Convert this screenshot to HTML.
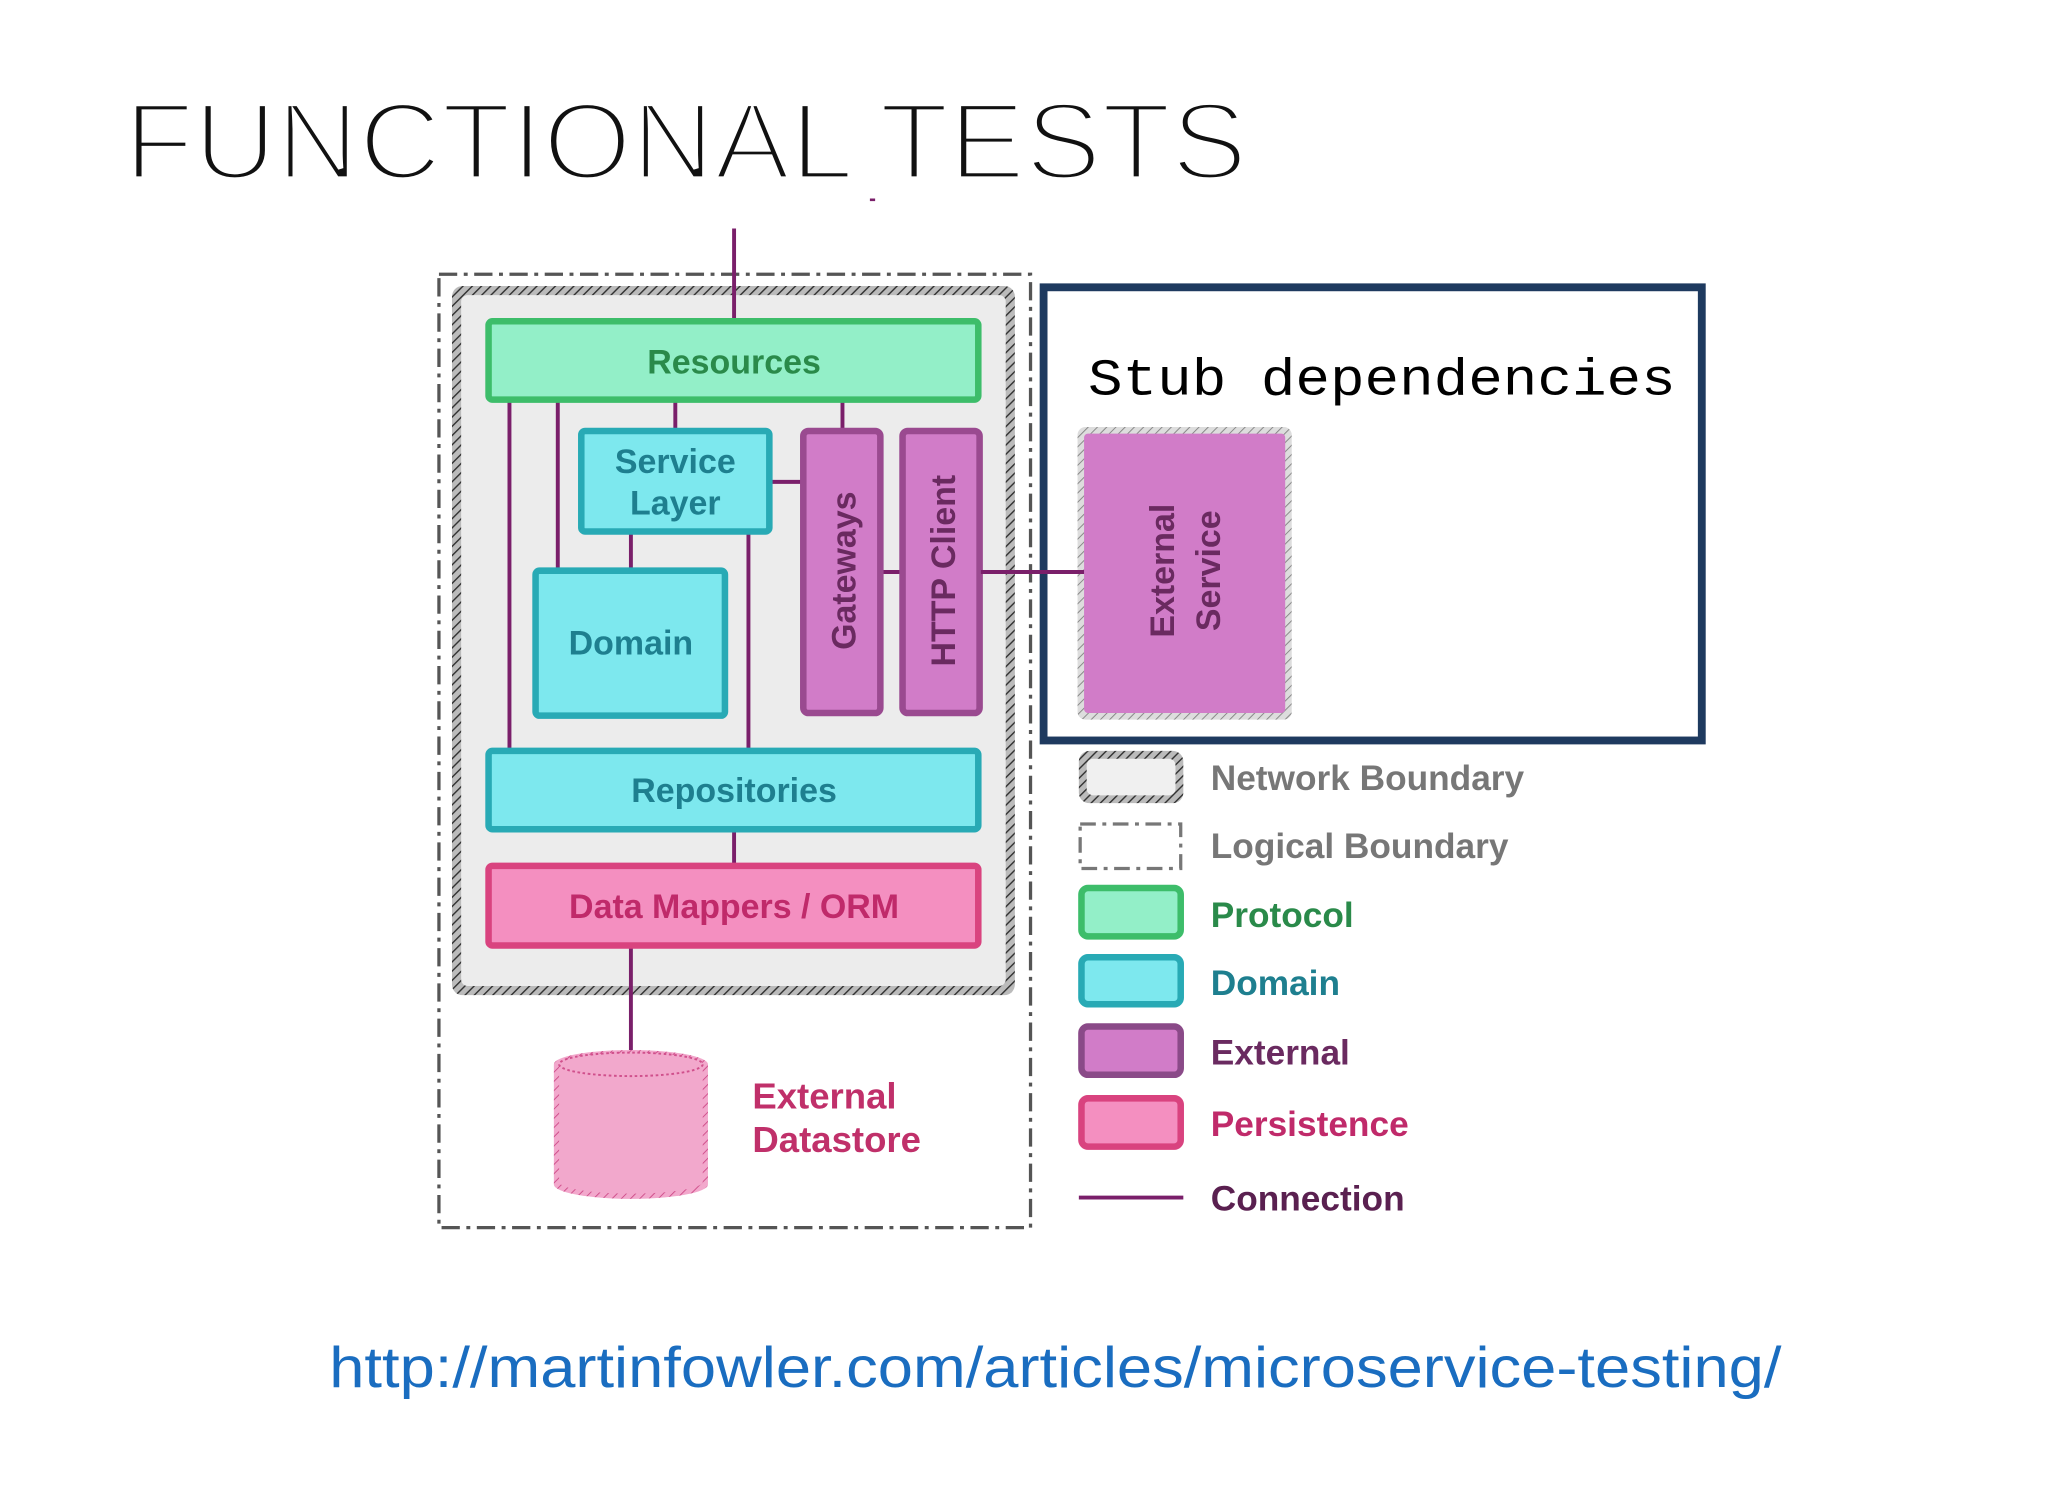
<!DOCTYPE html>
<html><head><meta charset="utf-8"><style>
html,body{margin:0;padding:0;background:#fff;}
svg{display:block;}
.s{font-family:"Liberation Sans",sans-serif;}
.m{font-family:"Liberation Mono",monospace;}
</style></head><body>
<svg width="2048" height="1494" viewBox="0 0 1568 1144" xmlns="http://www.w3.org/2000/svg">
<defs>
<pattern id="hatch" width="5" height="5" patternUnits="userSpaceOnUse" patternTransform="rotate(45)">
<rect width="5" height="5" fill="#bbb"/><line x1="0" y1="0" x2="0" y2="5" stroke="#333" stroke-width="2.2"/>
</pattern>
<pattern id="hatch2" width="5" height="5" patternUnits="userSpaceOnUse" patternTransform="rotate(45)">
<rect width="5" height="5" fill="#ddd"/><line x1="0" y1="0" x2="0" y2="5" stroke="#888" stroke-width="1.5"/>
</pattern>
<pattern id="hatch3" width="5" height="5" patternUnits="userSpaceOnUse" patternTransform="rotate(45)">
<rect width="5" height="5" fill="#f2a8cc"/><line x1="0" y1="0" x2="0" y2="5" stroke="#d0508c" stroke-width="1.5"/>
</pattern>
</defs>
<rect width="1568" height="1144" fill="#fff"/>
<text class="s" x="95" y="137" font-size="84" textLength="860" lengthAdjust="spacingAndGlyphs" fill="#111" stroke="#fff" stroke-width="4">FUNCTIONAL TESTS</text>
<rect x="666" y="152" width="4" height="2" fill="#7a1f6a"/>

<rect x="336" y="210" width="453" height="730" fill="none" stroke="#555" stroke-width="2.5" stroke-dasharray="14,5,3,5"/>
<rect x="346" y="219" width="431" height="543" rx="8" fill="url(#hatch)"/>
<rect x="353" y="226" width="417" height="529" rx="5" fill="#ececec"/>

<g stroke="#7a1f6a" stroke-width="3" fill="none">
<line x1="562" y1="175" x2="562" y2="246"/>
<line x1="390" y1="307" x2="390" y2="575"/>
<line x1="427" y1="307" x2="427" y2="437"/>
<line x1="517" y1="307" x2="517" y2="330"/>
<line x1="645" y1="307" x2="645" y2="330"/>
<line x1="590" y1="369" x2="615" y2="369"/>
<line x1="483" y1="408" x2="483" y2="437"/>
<line x1="573" y1="408" x2="573" y2="575"/>
<line x1="675" y1="438" x2="690" y2="438"/>
<line x1="562" y1="636" x2="562" y2="663"/>
<line x1="483" y1="725" x2="483" y2="806"/>
</g>

<g stroke-width="5">
<rect x="374" y="246" width="375" height="60" rx="3" fill="#93efc8" stroke="#3dbd6a"/>
<rect x="445" y="330" width="144" height="77" rx="3" fill="#7de8ee" stroke="#28aab5"/>
<rect x="410" y="437" width="145" height="111" rx="3" fill="#7de8ee" stroke="#28aab5"/>
<rect x="615" y="330" width="59" height="216" rx="4" fill="#d17cc8" stroke="#9a4a90"/>
<rect x="691" y="330" width="59" height="216" rx="4" fill="#d17cc8" stroke="#9a4a90"/>
<rect x="374" y="575" width="375" height="60" rx="3" fill="#7de8ee" stroke="#28aab5"/>
<rect x="374" y="663" width="375" height="61" rx="3" fill="#f48fc0" stroke="#d9437f"/>
</g>
<g class="s" font-weight="bold" font-size="26" text-anchor="middle">
<text x="562" y="286" fill="#2a8a4a">Resources</text>
<text x="517" y="362" fill="#1e7f8f">Service</text>
<text x="517" y="394" fill="#1e7f8f">Layer</text>
<text x="483" y="501" fill="#1e7f8f">Domain</text>
<text x="562" y="614" fill="#1e7f8f">Repositories</text>
<text x="562" y="703" fill="#c02a6a">Data Mappers / ORM</text>
<text transform="translate(655,437) rotate(-90)" fill="#6a2a60">Gateways</text>
<text transform="translate(731,437) rotate(-90)" fill="#6a2a60">HTTP Client</text>
</g>

<path d="M424,815 v92 a59,11 0 0 0 118,0 v-92 a59,11 0 0 0 -118,0 z" fill="url(#hatch3)"/>
<path d="M428,817 v88 a55,9 0 0 0 110,0 v-88 z" fill="#f2a8cc"/>
<ellipse cx="483" cy="815" rx="55" ry="9" fill="#f2a8cc" stroke="#d0508c" stroke-width="1.5" stroke-dasharray="2,2"/>
<text class="s" x="576" y="849" font-size="28" font-weight="bold" fill="#c0306a">External</text>
<text class="s" x="576" y="882" font-size="28" font-weight="bold" fill="#c0306a">Datastore</text>

<rect x="799" y="220" width="504" height="347" fill="#fff" stroke="#1e3a5f" stroke-width="6"/>
<text class="m" x="833" y="302" font-size="40" textLength="450" lengthAdjust="spacingAndGlyphs" fill="#000">Stub dependencies</text>
<rect x="825" y="327" width="164" height="224" rx="6" fill="url(#hatch2)"/>
<rect x="830" y="332" width="154" height="214" rx="3" fill="#d17cc8"/>
<line x1="751" y1="438" x2="830" y2="438" stroke="#7a1f6a" stroke-width="3"/>
<g class="s" font-weight="bold" font-size="26" text-anchor="middle" fill="#6a2a60">
<text transform="translate(899,437) rotate(-90)">External</text>
<text transform="translate(934,437) rotate(-90)">Service</text>
</g>

<rect x="826" y="575" width="80" height="40" rx="8" fill="url(#hatch)"/>
<rect x="832" y="581" width="68" height="28" rx="5" fill="#f0f0f0"/>
<rect x="827" y="631" width="77" height="34" fill="none" stroke="#777" stroke-width="2.5" stroke-dasharray="12,5,3,5"/>
<g stroke-width="5">
<rect x="828" y="680" width="76" height="37" rx="5" fill="#93efc8" stroke="#3dbd6a"/>
<rect x="828" y="733" width="76" height="36" rx="5" fill="#7de8ee" stroke="#28aab5"/>
<rect x="828" y="786" width="76" height="37" rx="5" fill="#d17cc8" stroke="#8a4a88"/>
<rect x="828" y="841" width="76" height="37" rx="5" fill="#f48fc0" stroke="#d9437f"/>
</g>
<line x1="826" y1="917" x2="906" y2="917" stroke="#7a1f6a" stroke-width="3"/>
<g class="s" font-weight="bold" font-size="27">
<text x="927" y="605" fill="#777">Network Boundary</text>
<text x="927" y="657" fill="#777">Logical Boundary</text>
<text x="927" y="710" fill="#2a8a4a">Protocol</text>
<text x="927" y="762" fill="#1e7f8f">Domain</text>
<text x="927" y="815" fill="#6a2a60">External</text>
<text x="927" y="870" fill="#c02a6a">Persistence</text>
<text x="927" y="927" fill="#5a2050">Connection</text>
</g>

<text class="s" x="252" y="1062" font-size="44" textLength="1112" lengthAdjust="spacingAndGlyphs" fill="#1a6dc0">http://martinfowler.com/articles/microservice-testing/</text>
</svg>
</body></html>
